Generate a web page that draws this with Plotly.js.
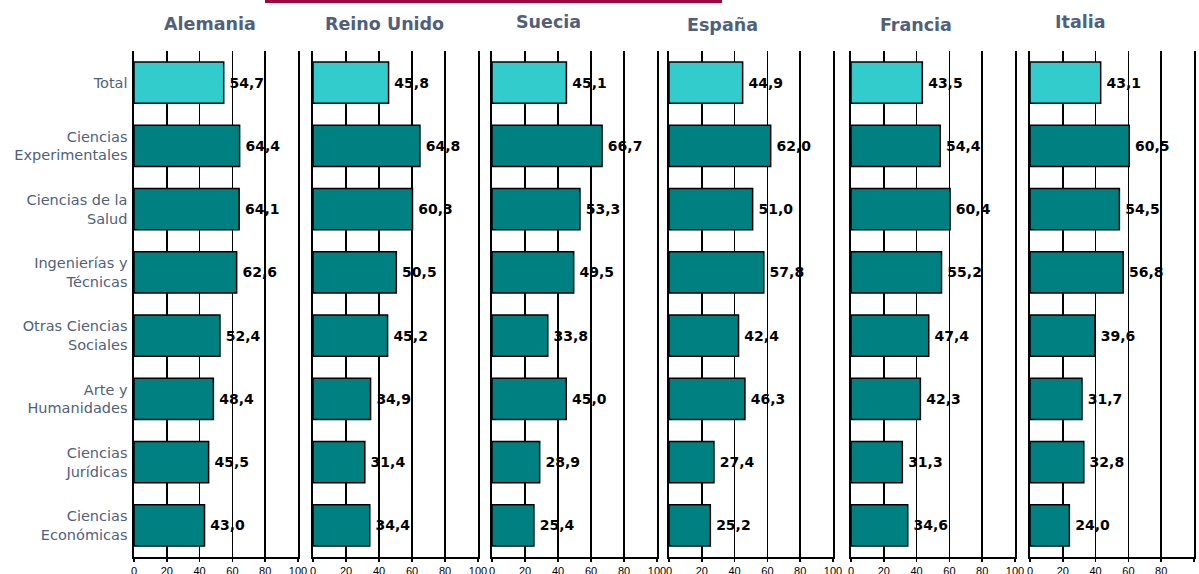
<!DOCTYPE html>
<html>
<head>
<meta charset="utf-8">
<script src="https://cdn.plot.ly/plotly-3.0.1.min.js"></script>
<style>html,body{margin:0;padding:0;background:#fff;}#chart{width:1199px;height:574px;}</style>
</head>
<body>
<div id="chart"></div>
<script>
// ---- data ----
var countries = ['Alemania', 'Reino Unido', 'Suecia', 'España', 'Francia', 'Italia'];
var categories = ['Total', 'Ciencias<br>Experimentales', 'Ciencias de la<br>Salud', 'Ingenierías y<br>Técnicas',
                  'Otras Ciencias<br>Sociales', 'Arte y<br>Humanidades', 'Ciencias<br>Jurídicas', 'Ciencias<br>Económicas'];
var alemania   = [54.7, 64.4, 64.1, 62.6, 52.4, 48.4, 45.5, 43.0];
var reinoUnido = [45.8, 64.8, 60.3, 50.5, 45.2, 34.9, 31.4, 34.4];
var suecia     = [45.1, 66.7, 53.3, 49.5, 33.8, 45.0, 28.9, 25.4];
var espana     = [44.9, 62.0, 51.0, 57.8, 42.4, 46.3, 27.4, 25.2];
var francia    = [43.5, 54.4, 60.4, 55.2, 47.4, 42.3, 31.3, 34.6];
var italia     = [43.1, 60.5, 54.5, 56.8, 39.6, 31.7, 32.8, 24.0];
var seriesValues = [alemania, reinoUnido, suecia, espana, francia, italia];
var tickVals = [0, 20, 40, 60, 80, 100];
var tickText = ['0', '20', '40', '60', '80', '100'];

// ---- layout geometry (pixels) ----
var W = 1199, H = 574;
var panelPx = [[134, 298], [313, 478], [492, 657], [669, 833], [851, 1015], [1030, 1194]];
var titleCx = [210, 384, 548, 722, 916, 1080];
var titleCy = [24, 24, 22, 25, 25, 22];
var plotTop = 51, plotBottom = 557;

var labelColor = '#505f7c';
var totalColor = '#33CCCC', mainColor = '#008080';

var traces = [];
var layout = {
  width: W, height: H,
  margin: {l: 0, r: 0, t: 0, b: 0, pad: 0},
  paper_bgcolor: '#ffffff',
  plot_bgcolor: '#ffffff',
  showlegend: false,
  separators: ',.',
  bargap: 0.35,
  annotations: [],
  shapes: [{
    type: 'rect', xref: 'paper', yref: 'paper',
    x0: 265 / W, x1: 722 / W, y0: 1 - 3 / H, y1: 1,
    fillcolor: '#9b0a3a', line: {width: 0}, layer: 'above'
  }]
};

for (var i = 0; i < countries.length; i++) {
  var sfx = i === 0 ? '' : String(i + 1);
  var colors = categories.map(function (c, k) { return k === 0 ? totalColor : mainColor; });
  traces.push({
    type: 'bar',
    orientation: 'h',
    x: seriesValues[i],
    y: categories,
    xaxis: 'x' + sfx,
    yaxis: 'y' + sfx,
    marker: {color: colors, line: {color: '#000000', width: 1.5}},
    texttemplate: '\u2009%{x:.1f}',
    textposition: 'outside',
    constraintext: 'none',
    cliponaxis: false,
    textfont: {family: 'DejaVu Sans', size: 14, color: '#000000', weight: 'bold'},
    hoverinfo: 'skip'
  });

  layout['xaxis' + sfx] = {
    domain: [panelPx[i][0] / W, panelPx[i][1] / W],
    anchor: 'y' + sfx,
    range: [0, 100],
    tickvals: tickVals,
    ticktext: tickText,
    showgrid: true,
    gridcolor: '#000000',
    gridwidth: 1.6,
    zeroline: false,
    showline: true,
    linecolor: '#000000',
    linewidth: 1.6,
    ticks: 'outside',
    ticklen: 3,
    tickwidth: 1.6,
    tickcolor: '#000000',
    ticklabelstandoff: 0,
    tickfont: {family: 'Liberation Sans', size: 11, color: '#000000'},
    automargin: false,
    fixedrange: true
  };
  layout['yaxis' + sfx] = {
    domain: [1 - plotBottom / H, 1 - plotTop / H],
    anchor: 'x' + sfx,
    type: 'category',
    categoryorder: 'array',
    categoryarray: categories,
    range: [7.5, -0.5],
    showgrid: false,
    zeroline: false,
    showline: true,
    mirror: true,
    linecolor: '#000000',
    linewidth: 1.6,
    ticks: '',
    showticklabels: i === 0,
    ticklabelstandoff: 2,
    tickfont: {family: 'DejaVu Sans', size: 14.5, color: labelColor},
    automargin: false,
    fixedrange: true
  };

  layout.annotations.push({
    xref: 'paper', yref: 'paper',
    x: titleCx[i] / W, y: 1 - titleCy[i] / H,
    xanchor: 'center', yanchor: 'middle',
    text: countries[i],
    showarrow: false,
    font: {family: 'DejaVu Sans', size: 17.5, color: labelColor, weight: 'bold'}
  });
}

Plotly.newPlot('chart', traces, layout, {staticPlot: true, displayModeBar: false});
</script>
</body>
</html>
